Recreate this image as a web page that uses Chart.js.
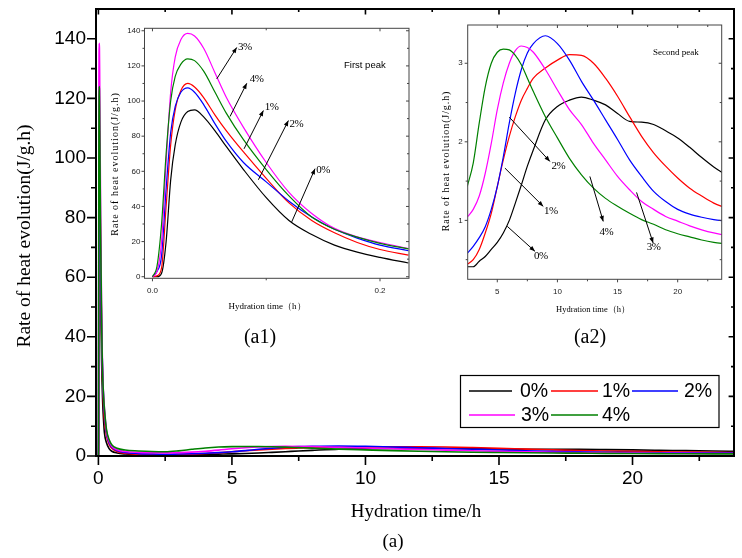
<!DOCTYPE html>
<html>
<head>
<meta charset="utf-8">
<script src="https://cdn.jsdelivr.net/npm/chart.js@4.4.0/dist/chart.umd.min.js"></script>
<style>
  body { margin: 0; background: #fff; }
  #wrap { position: relative; width: 742px; height: 558px; }
  #wrap canvas { position: absolute; left: 0; top: 0; }
</style>
</head>
<body>
<div id="wrap">
  <canvas id="main" width="742" height="558"></canvas>
  <canvas id="peak1" width="742" height="558"></canvas>
  <canvas id="peak2" width="742" height="558"></canvas>
</div>
<script>
const seriesLabels = ['0%', '1%', '2%', '3%', '4%'];
const seriesColors = ['#000000', '#ff0000', '#0000ff', '#ff00ff', '#008000'];

// first peak, 0 - 0.225 h
const firstPeakTime = [0, 0.004, 0.008, 0.012, 0.016, 0.02, 0.025, 0.031, 0.037, 0.045,
  0.055, 0.065, 0.08, 0.1, 0.12, 0.14, 0.16, 0.18, 0.2, 0.225];
const firstPeak0 = [0, 0, 2, 20, 55, 75, 88, 94, 95, 91, 83, 74, 61, 45, 32, 24, 18, 14, 11, 7.8];
const firstPeak1 = [0, 0.5, 5, 40, 75, 95, 106, 110, 108, 102, 92, 83, 71, 56, 42, 32, 25, 19.5, 15.5, 12.3];
const firstPeak2 = [0, 3, 12, 50, 82, 97, 105, 107.5, 105, 98, 87, 77, 65, 54, 43, 34, 27, 22, 18, 14.8];
const firstPeak3 = [0, 3, 20, 65, 105, 125, 135, 138.5, 137, 130, 116, 102, 85, 65, 48, 36, 27.5, 22.7, 19.5, 16];
const firstPeak4 = [0, 6, 30, 70, 100, 114, 121, 124, 123, 117, 105, 93, 78, 61, 46, 34, 27, 22.5, 19, 15.8];

// dormant part between the two peaks
const decayTime = [0.3, 0.4, 0.5, 0.7, 1.0, 1.5, 2.0];
const decay0 = [4.5, 2.5, 1.6, 1.0, 0.7, 0.55, 0.45];
const decay1 = [7, 4, 2.6, 1.5, 0.9, 0.6, 0.5];
const decay2 = [8, 4.5, 3, 1.8, 1.2, 0.8, 0.65];
const decay3 = [8.5, 5, 3.3, 2.1, 1.5, 1.2, 1.1];
const decay4 = [9, 5.5, 3.8, 2.6, 2.0, 1.7, 1.5];

// second peak, 2.5 - 24 h
const secondPeakTime = [2.5, 3, 3.5, 4, 4.5, 5, 5.5, 6, 6.5, 7, 7.5, 8, 9, 10, 11, 12,
  13, 14, 15, 16, 17, 18, 19, 20, 21, 22, 23, 24];
const secondPeak0 = [0.41, 0.41, 0.48, 0.54, 0.63, 0.72, 0.84, 1.0, 1.22, 1.45, 1.69, 1.9, 2.28, 2.45,
  2.53, 2.57, 2.53, 2.47, 2.36, 2.26, 2.25, 2.22, 2.14, 2.05, 1.93, 1.8, 1.68, 1.58];
const secondPeak1 = [0.44, 0.5, 0.63, 0.84, 1.09, 1.43, 1.77, 2.07, 2.32, 2.53, 2.68, 2.81, 2.94, 3.04,
  3.11, 3.1, 3.0, 2.81, 2.58, 2.32, 2.07, 1.86, 1.69, 1.54, 1.41, 1.31, 1.22, 1.16];
const secondPeak2 = [0.58, 0.67, 0.78, 0.92, 1.14, 1.43, 1.81, 2.24, 2.62, 2.92, 3.13, 3.25, 3.35, 3.25,
  3.04, 2.77, 2.53, 2.28, 2.03, 1.77, 1.56, 1.37, 1.24, 1.14, 1.08, 1.04, 1.01, 0.99];
const secondPeak3 = [1.04, 1.14, 1.31, 1.6, 1.98, 2.41, 2.75, 3.0, 3.16, 3.22, 3.2, 3.14, 2.92, 2.66,
  2.41, 2.22, 1.98, 1.77, 1.56, 1.39, 1.24, 1.14, 1.05, 0.99, 0.93, 0.88, 0.84, 0.81];
const secondPeak4 = [1.43, 1.73, 2.24, 2.7, 3.0, 3.14, 3.18, 3.17, 3.1, 2.98, 2.81, 2.64, 2.32, 2.05,
  1.79, 1.58, 1.41, 1.28, 1.18, 1.09, 1.01, 0.95, 0.88, 0.83, 0.79, 0.75, 0.72, 0.7];

// tick labels
const mainXTicks = [0, 5, 10, 15, 20];
const mainXMinor = [2.5, 7.5, 12.5, 17.5, 22.5];
const mainYTicks = [0, 20, 40, 60, 80, 100, 120, 140];
const mainYMinor = [10, 30, 50, 70, 90, 110, 130];
const peak1XTicks = [0, 0.2];
const peak1XMinor = [0.1];
const peak1YTicks = [0, 20, 40, 60, 80, 100, 120, 140];
const peak1YMinor = [10, 30, 50, 70, 90, 110, 130];
const peak2XTicks = [5, 10, 15, 20];
const peak2XMinor = [7.5, 12.5, 17.5, 22.5];
const peak2YTicks = [1, 2, 3];
const peak2YMinor = [0.5, 1.5, 2.5];

const firstPeaks = [firstPeak0, firstPeak1, firstPeak2, firstPeak3, firstPeak4];
const decays = [decay0, decay1, decay2, decay3, decay4];
const secondPeaks = [secondPeak0, secondPeak1, secondPeak2, secondPeak3, secondPeak4];

const zip = (xs, ys) => xs.map((x, k) => ({x: x, y: ys[k]}));

function makeDatasets(pick, width) {
  return seriesLabels.map((label, i) => ({
    label: label,
    data: pick(i),
    borderColor: seriesColors[i],
    borderWidth: width,
    pointRadius: 0,
    fill: false,
    cubicInterpolationMode: 'monotone',
    order: 4 - i
  }));
}

// frame + major/minor tick marks drawn from the scales
function frameTicks(id, t) {
  return {
    id: id,
    afterDraw(chart) {
      const {ctx, chartArea: a, scales: {x, y}} = chart;
      ctx.save();
      ctx.strokeStyle = t.color;
      ctx.lineWidth = t.frame;
      ctx.strokeRect(a.left, a.top, a.right - a.left, a.bottom - a.top);
      ctx.lineWidth = t.tickWidth;
      ctx.beginPath();
      const xt = (vals, len) => vals.forEach(v => {
        const px = x.getPixelForValue(v);
        ctx.moveTo(px, a.bottom); ctx.lineTo(px, a.bottom + len);
        ctx.moveTo(px, a.top); ctx.lineTo(px, a.top + t.mirror * len);
      });
      const yt = (vals, len) => vals.forEach(v => {
        const py = y.getPixelForValue(v);
        ctx.moveTo(a.left, py); ctx.lineTo(a.left - len, py);
        ctx.moveTo(a.right, py); ctx.lineTo(a.right - t.mirror * len, py);
      });
      xt(t.xMajor, t.major); xt(t.xMinor, t.minor);
      yt(t.yMajor, t.major); yt(t.yMinor, t.minor);
      ctx.stroke();
      ctx.restore();
    }
  };
}

function arrow(ctx, x1, y1, x2, y2) {
  const ang = Math.atan2(y2 - y1, x2 - x1), h = 6;
  ctx.beginPath();
  ctx.moveTo(x1, y1);
  ctx.lineTo(x2, y2);
  ctx.stroke();
  ctx.beginPath();
  ctx.moveTo(x2, y2);
  ctx.lineTo(x2 - h * Math.cos(ang - 0.38), y2 - h * Math.sin(ang - 0.38));
  ctx.lineTo(x2 - h * Math.cos(ang + 0.38), y2 - h * Math.sin(ang + 0.38));
  ctx.closePath();
  ctx.fill();
}

function notesPlugin(id, notes, texts) {
  return {
    id: id,
    afterDraw(chart) {
      const {ctx, scales: {x, y}} = chart;
      ctx.save();
      ctx.strokeStyle = '#000';
      ctx.fillStyle = '#000';
      ctx.lineWidth = 1;
      notes.forEach(n => {
        arrow(ctx, x.getPixelForValue(n[1]), y.getPixelForValue(n[2]),
          x.getPixelForValue(n[3]), y.getPixelForValue(n[4]));
        ctx.font = '11px "Liberation Serif"';
        ctx.letterSpacing = '-0.5px';
        ctx.textAlign = n[7];
        ctx.textBaseline = 'middle';
        ctx.fillText(n[0], x.getPixelForValue(n[5]), y.getPixelForValue(n[6]));
      });
      ctx.letterSpacing = '0px';
      texts.forEach(tx => {
        ctx.save();
        ctx.font = tx.font;
        ctx.letterSpacing = tx.spacing || '0px';
        ctx.textAlign = tx.align || 'center';
        ctx.textBaseline = 'middle';
        ctx.translate(tx.x, tx.y);
        if (tx.rot) ctx.rotate(tx.rot);
        ctx.fillText(tx.text, 0, 0);
        ctx.restore();
      });
      ctx.restore();
    }
  };
}

function fixTicks(list) {
  return s => { s.ticks = list.map(v => ({value: v})); };
}

// fixed axis box, no extra label padding pushed into the layout
function fitBox(prop, size) {
  return s => {
    s[prop] = size;
    s.paddingTop = 0; s.paddingBottom = 0;
    s.paddingLeft = 0; s.paddingRight = 0;
  };
}

// ---------- main chart ----------
const mainLegend = {
  id: 'mainLegend',
  afterDraw(chart) {
    const ctx = chart.ctx;
    const ds = chart.data.datasets;
    const slots = [
      [469, 512, 520, 391], [551, 598, 602, 391], [632, 678, 684, 391],
      [469, 515, 521, 415], [551, 598, 602, 415]
    ];
    ctx.save();
    ctx.fillStyle = '#fff';
    ctx.fillRect(461, 375, 258, 52);
    ctx.strokeStyle = '#000';
    ctx.lineWidth = 1.2;
    ctx.strokeRect(460.5, 375.5, 258.5, 52);
    ctx.font = '19.5px "Liberation Sans"';
    ctx.textBaseline = 'middle';
    ctx.textAlign = 'left';
    ds.forEach((d, i) => {
      const s = slots[i];
      ctx.strokeStyle = d.borderColor;
      ctx.lineWidth = 1.3;
      ctx.beginPath();
      ctx.moveTo(s[0], s[3]);
      ctx.lineTo(s[1], s[3]);
      ctx.stroke();
      ctx.fillStyle = '#000';
      ctx.fillText(d.label, s[2], s[3] + 1);
    });
    ctx.restore();
  }
};

new Chart(document.getElementById('main'), {
  type: 'line',
  data: {
    datasets: makeDatasets(i => zip(firstPeakTime.concat(decayTime, secondPeakTime),
      firstPeaks[i].concat(decays[i], secondPeaks[i])), 1.6)
  },
  options: {
    responsive: false,
    animation: false,
    devicePixelRatio: 1,
    layout: {padding: {left: 0, top: 9, right: 8, bottom: 0}},
    plugins: {legend: {display: false}, tooltip: {enabled: false}},
    scales: {
      x: {
        type: 'linear', min: -0.09, max: 23.8,
        afterBuildTicks: fixTicks(mainXTicks),
        afterFit: fitBox('height', 102),
        grid: {display: false, drawTicks: false},
        border: {display: false},
        ticks: {padding: 11, color: '#000', autoSkip: false, maxRotation: 0,
          font: {family: 'Liberation Sans', size: 19}}
      },
      y: {
        type: 'linear', min: 0, max: 150,
        afterBuildTicks: fixTicks(mainYTicks),
        afterFit: fitBox('width', 96),
        grid: {display: false, drawTicks: false},
        border: {display: false},
        ticks: {padding: 10, color: '#000', autoSkip: false,
          font: {family: 'Liberation Sans', size: 19}}
      }
    }
  },
  plugins: [
    frameTicks('mainFrame', {color: '#000', frame: 2, tickWidth: 1.6, major: 9, minor: 5, mirror: 0.6,
      xMajor: mainXTicks, xMinor: mainXMinor, yMajor: mainYTicks, yMinor: mainYMinor}),
    notesPlugin('mainTexts', [], [
      {text: 'Rate of heat evolution(J/g.h)', x: 25, y: 236, rot: -Math.PI / 2, font: '19.5px "Liberation Serif"'},
      {text: 'Hydration time/h', x: 416, y: 512, font: '19px "Liberation Serif"'},
      {text: '(a)', x: 393, y: 542, font: '19px "Liberation Serif"'}
    ]),
    mainLegend
  ]
});

// ---------- inset (a1): first peak ----------
// [label, fromX, fromY, toX, toY, textX, textY, align]
const peak1Notes = [
  ['3%', 0.0565, 112.6, 0.0741, 130.5, 0.0752, 130.9, 'left'],
  ['4%', 0.0682, 91.2, 0.0829, 110.1, 0.0855, 112.2, 'left'],
  ['1%', 0.0805, 72.8, 0.0975, 94.6, 0.0988, 96.5, 'left'],
  ['2%', 0.0931, 55.2, 0.1195, 88.9, 0.1205, 87.0, 'left'],
  ['0%', 0.1224, 31.2, 0.1429, 61.5, 0.1440, 60.9, 'left']
];

new Chart(document.getElementById('peak1'), {
  type: 'line',
  data: {datasets: makeDatasets(i => zip(firstPeakTime, firstPeaks[i]), 1.2)},
  options: {
    responsive: false,
    animation: false,
    devicePixelRatio: 1,
    layout: {padding: {left: 104.5, top: 28.3, right: 333, bottom: 239.7}},
    plugins: {legend: {display: false}, tooltip: {enabled: false}},
    scales: {
      x: {
        type: 'linear', min: -0.007, max: 0.2255,
        afterBuildTicks: fixTicks(peak1XTicks),
        afterFit: fitBox('height', 40),
        grid: {display: false, drawTicks: false},
        border: {display: false},
        ticks: {padding: 8, color: '#222', autoSkip: false, maxRotation: 0,
          callback: v => v.toFixed(1), font: {family: 'Liberation Sans', size: 8}}
      },
      y: {
        type: 'linear', min: -0.9, max: 141.4,
        afterBuildTicks: fixTicks(peak1YTicks),
        afterFit: fitBox('width', 40),
        grid: {display: false, drawTicks: false},
        border: {display: false},
        ticks: {padding: 4, color: '#222', autoSkip: false,
          font: {family: 'Liberation Sans', size: 8}}
      }
    }
  },
  plugins: [
    frameTicks('p1Frame', {color: '#444', frame: 1, tickWidth: 1, major: 3, minor: 2, mirror: 1,
      xMajor: peak1XTicks, xMinor: peak1XMinor, yMajor: peak1YTicks, yMinor: peak1YMinor}),
    notesPlugin('p1Notes', peak1Notes, [
      {text: 'First peak', x: 344, y: 65, align: 'left', font: '9.5px "Liberation Sans"'},
      {text: 'Rate of heat evolution(J/g.h)', x: 115, y: 164, rot: -Math.PI / 2, spacing: '1px',
        font: '10px "Liberation Serif"'},
      {text: 'Hydration time（h）', x: 267, y: 307, font: '9px "Liberation Serif"'},
      {text: '(a1)', x: 260, y: 338, font: '20px "Liberation Serif"'}
    ])
  ]
});

// ---------- inset (a2): second peak ----------
const peak2Notes = [
  ['2%', 6.0, 2.314, 9.377, 1.75, 9.515, 1.686, 'left'],
  ['1%', 5.637, 1.665, 8.823, 1.178, 8.878, 1.114, 'left'],
  ['0%', 5.831, 0.924, 8.13, 0.606, 8.047, 0.551, 'left'],
  ['4%', 12.7, 1.559, 13.81, 0.987, 14.06, 0.847, 'center'],
  ['3%', 16.58, 1.356, 17.96, 0.712, 17.99, 0.661, 'center']
];

new Chart(document.getElementById('peak2'), {
  type: 'line',
  data: {datasets: makeDatasets(i => zip(secondPeakTime, secondPeaks[i]), 1.2)},
  options: {
    responsive: false,
    animation: false,
    devicePixelRatio: 1,
    layout: {padding: {left: 427.7, top: 25, right: 20.3, bottom: 238.7}},
    plugins: {legend: {display: false}, tooltip: {enabled: false}},
    scales: {
      x: {
        type: 'linear', min: 2.54, max: 23.66,
        afterBuildTicks: fixTicks(peak2XTicks),
        afterFit: fitBox('height', 40),
        grid: {display: false, drawTicks: false},
        border: {display: false},
        ticks: {padding: 8, color: '#222', autoSkip: false, maxRotation: 0,
          font: {family: 'Liberation Sans', size: 8}}
      },
      y: {
        type: 'linear', min: 0.25, max: 3.487,
        afterBuildTicks: fixTicks(peak2YTicks),
        afterFit: fitBox('width', 40),
        grid: {display: false, drawTicks: false},
        border: {display: false},
        ticks: {padding: 5, color: '#222', autoSkip: false,
          font: {family: 'Liberation Sans', size: 8}}
      }
    }
  },
  plugins: [
    frameTicks('p2Frame', {color: '#444', frame: 1, tickWidth: 1, major: 3, minor: 2, mirror: 1,
      xMajor: peak2XTicks, xMinor: peak2XMinor, yMajor: peak2YTicks, yMinor: peak2YMinor}),
    notesPlugin('p2Notes', peak2Notes, [
      {text: 'Second peak', x: 653, y: 53, align: 'left', font: '9px "Liberation Serif"'},
      {text: 'Rate of heat evolution(J/g.h)', x: 446, y: 161, rot: -Math.PI / 2, spacing: '0.9px',
        font: '10px "Liberation Serif"'},
      {text: 'Hydration time（h）', x: 593, y: 310, font: '8.5px "Liberation Serif"'},
      {text: '(a2)', x: 590, y: 338, font: '20px "Liberation Serif"'}
    ])
  ]
});
</script>
</body>
</html>
